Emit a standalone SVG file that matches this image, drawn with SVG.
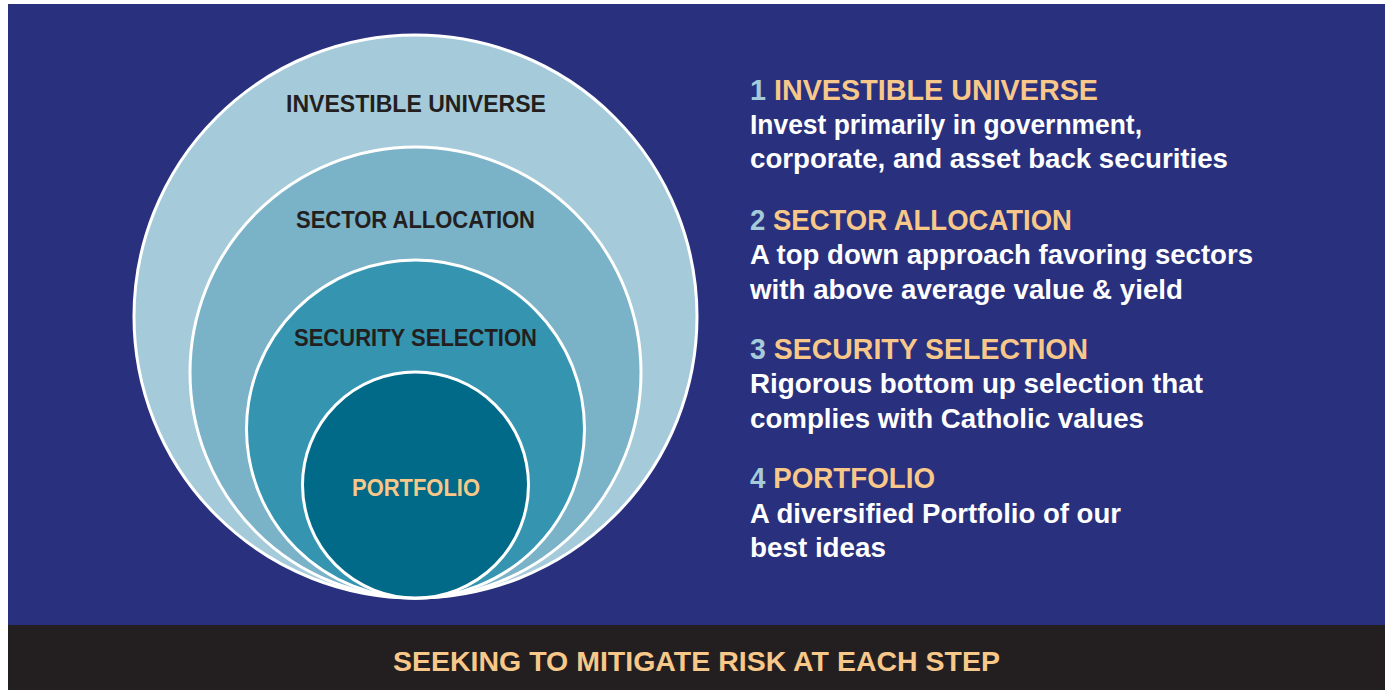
<svg xmlns="http://www.w3.org/2000/svg" width="1385" height="690" viewBox="0 0 1385 690">
<style>
.ring{stroke:#FFFFFF;stroke-width:3}
.lbl{font-family:"Liberation Sans",Arial,sans-serif;font-weight:bold;font-size:23.5px;fill:#231F20;text-anchor:middle}
.head{font-family:"Liberation Sans",Arial,sans-serif;font-weight:bold;font-size:29px;fill:#F7C889}
.num{fill:#A5CBDA}
.body{font-family:"Liberation Sans",Arial,sans-serif;font-weight:bold;font-size:27px;fill:#FFFFFF}
.foot{font-family:"Liberation Sans Narrow","Liberation Sans",Arial,sans-serif;font-weight:bold;font-size:28px;fill:#F7C889;text-anchor:middle}
</style>
<rect x="0" y="0" width="1385" height="690" fill="#FFFFFF"/>
<rect x="8" y="4" width="1377" height="621" fill="#29307D"/>
<rect x="8" y="625" width="1377" height="65" fill="#231F20"/>
<g id="investible-universe">
<circle class="ring" cx="415.5" cy="316.5" r="281.5" fill="#A5CBDA"/>
<text class="lbl" x="416" y="112" textLength="260" lengthAdjust="spacingAndGlyphs">INVESTIBLE UNIVERSE</text>
</g>
<g id="sector-allocation">
<circle class="ring" cx="415.5" cy="372.5" r="225.5" fill="#7AB2C8"/>
<text class="lbl" x="415.5" y="228" textLength="239" lengthAdjust="spacingAndGlyphs">SECTOR ALLOCATION</text>
</g>
<g id="security-selection">
<circle class="ring" cx="415.5" cy="429" r="169" fill="#3595B0"/>
<text class="lbl" x="415.5" y="346" textLength="243" lengthAdjust="spacingAndGlyphs">SECURITY SELECTION</text>
</g>
<g id="portfolio">
<circle class="ring" cx="415.5" cy="485" r="113" fill="#006A88"/>
<text class="lbl" x="416" y="496" style="fill:#F7C889" textLength="128" lengthAdjust="spacingAndGlyphs">PORTFOLIO</text>
</g>
<g id="descriptions">
<text class="head" x="750" y="100" textLength="348" lengthAdjust="spacingAndGlyphs"><tspan class="num">1</tspan> INVESTIBLE UNIVERSE</text>
<text class="body" x="750" y="134" textLength="392" lengthAdjust="spacingAndGlyphs">Invest primarily in government,</text>
<text class="body" x="750" y="168" textLength="478" lengthAdjust="spacingAndGlyphs">corporate, and asset back securities</text>
<text class="head" x="750" y="230" textLength="322" lengthAdjust="spacingAndGlyphs"><tspan class="num">2</tspan> SECTOR ALLOCATION</text>
<text class="body" x="750" y="264" textLength="503" lengthAdjust="spacingAndGlyphs">A top down approach favoring sectors</text>
<text class="body" x="750" y="299" textLength="433" lengthAdjust="spacingAndGlyphs">with above average value &amp; yield</text>
<text class="head" x="750" y="359" textLength="338" lengthAdjust="spacingAndGlyphs"><tspan class="num">3</tspan> SECURITY SELECTION</text>
<text class="body" x="750" y="393" textLength="453" lengthAdjust="spacingAndGlyphs">Rigorous bottom up selection that</text>
<text class="body" x="750" y="428" textLength="394" lengthAdjust="spacingAndGlyphs">complies with Catholic values</text>
<text class="head" x="750" y="488" textLength="185" lengthAdjust="spacingAndGlyphs"><tspan class="num">4</tspan> PORTFOLIO</text>
<text class="body" x="750" y="523" textLength="371" lengthAdjust="spacingAndGlyphs">A diversified Portfolio of our</text>
<text class="body" x="750" y="557" textLength="136" lengthAdjust="spacingAndGlyphs">best ideas</text>
</g>
<g id="footer">
<text class="foot" x="696.5" y="671" textLength="607" lengthAdjust="spacingAndGlyphs">SEEKING TO MITIGATE RISK AT EACH STEP</text>
</g>
<g id="connectors"/>
</svg>
